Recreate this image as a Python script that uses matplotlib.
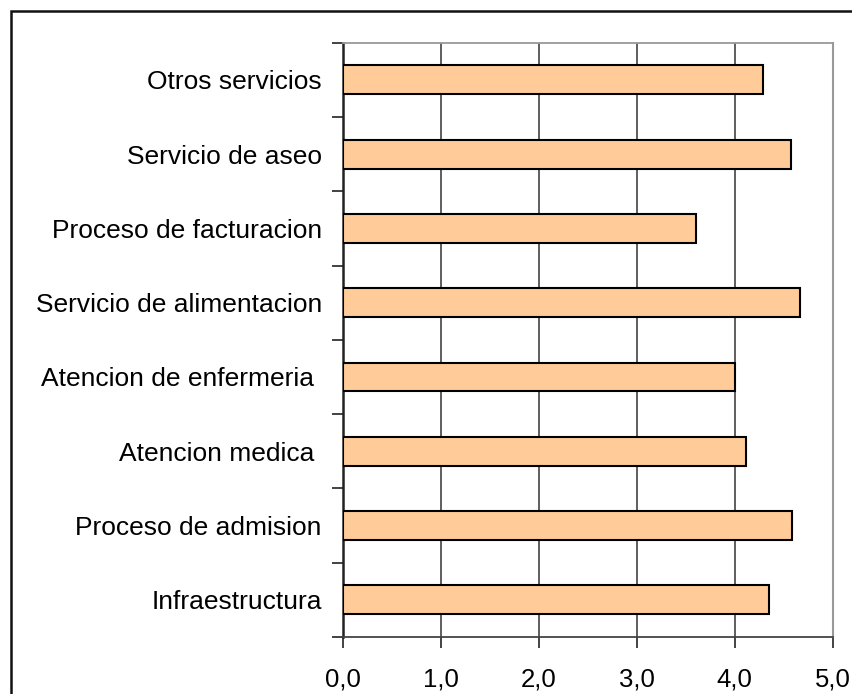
import matplotlib
matplotlib.use("Agg")
import matplotlib.pyplot as plt
from matplotlib.patches import Rectangle
import numpy as np

categories = ["Infraestructura", "Proceso de admision", "Atencion medica ",
              "Atencion de enfermeria ", "Servicio de alimentacion",
              "Proceso de facturacion", "Servicio de aseo", "Otros servicios"]
values = [4.35, 4.58, 4.12, 4.0, 4.67, 3.61, 4.57, 4.29]
xticks = [0, 1, 2, 3, 4, 5]
xticklabels = ["0,0", "1,0", "2,0", "3,0", "4,0", "5,0"]

plt.rcParams['font.family'] = ['Liberation Sans', 'DejaVu Sans']

W, H = 852, 694
fig = plt.figure(figsize=(W / 100, H / 100), dpi=100)
ax = fig.add_axes([342.7 / W, (H - 637) / H, 490 / W, (637 - 42.7) / H])

y = np.arange(len(categories))
ax.barh(y, values, height=0.39, color="#FFCC99", edgecolor="black",
        linewidth=1.5, zorder=3)

ax.set_xlim(0, 5)
ax.set_ylim(-0.5, len(categories) - 0.5)
ax.set_xticks(xticks)
ax.set_xticklabels(xticklabels, fontsize=18.5)
ax.set_yticks(np.arange(-0.5, len(categories)), minor=False)
ax.set_yticklabels([])
ax.set_yticks(y, minor=True)
ax.set_yticklabels(categories, minor=True, fontsize=19)
ax.tick_params(axis='y', which='minor', length=0, pad=15)
ax.tick_params(axis='y', which='major', length=8, width=1.2, color='#222222', direction='out')
ax.tick_params(axis='x', which='major', length=8, width=1.2, color='#222222', direction='out', pad=14)

ax.grid(axis='x', color='#333333', linewidth=1.1, zorder=0)
ax.set_axisbelow(True)

ax.spines['left'].set_color('#222222')
ax.spines['left'].set_linewidth(1.8)
ax.spines['bottom'].set_color('#444444')
ax.spines['bottom'].set_linewidth(1.3)
ax.spines['top'].set_color('#999999')
ax.spines['top'].set_linewidth(1.3)
ax.spines['right'].set_color('#999999')
ax.spines['right'].set_linewidth(1.5)

frame = Rectangle((10.5 / W, -0.1), 1.2, (H - 11) / H + 0.1, transform=fig.transFigure,
                  fill=False, edgecolor='#111111', linewidth=1.8, clip_on=False)
fig.patches.append(frame)

fig.savefig("out.png", dpi=100)
